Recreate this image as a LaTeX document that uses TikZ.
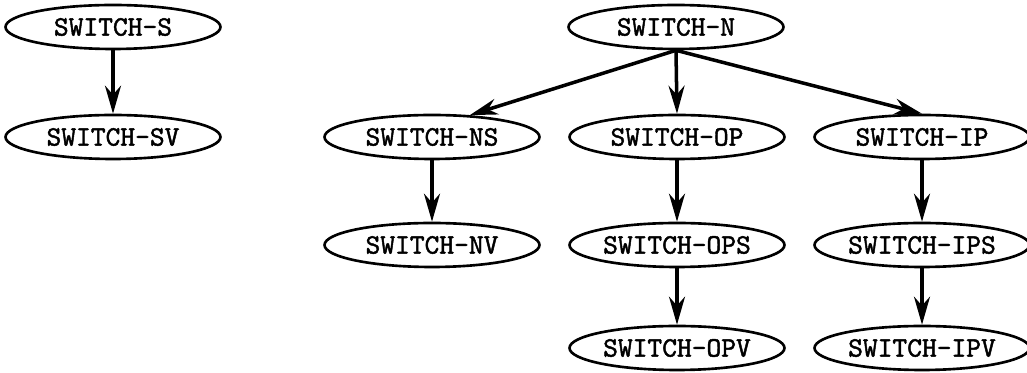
\documentclass[tikz,border=0pt]{standalone}
\usepackage{fontspec}
\setmonofont{lmmono10-regular.otf}[FakeBold=1.6]
\usepackage{tikz}
\usetikzlibrary{arrows.meta,shapes.geometric}

\begin{document}
\begin{tikzpicture}[
  unit/.style={draw, ellipse, line width=1.5pt, minimum width=4.3cm, minimum height=0.88cm, inner sep=0pt, font=\ttfamily\fontsize{16}{18}\selectfont},
  link/.style={line width=2pt, -{Stealth[length=0.56cm, width=0.32cm, inset=0.18cm]}}
]
  \useasboundingbox (0,0) rectangle (20.54,-7.46);
  \node[unit] (s) at (2.26,-0.54) {SWITCH-S};
  \node[unit] (sv) at (2.26,-2.74) {SWITCH-SV};
  \node[unit] (n) at (13.52,-0.54) {SWITCH-N};
  \node[unit] (ns) at (8.64,-2.74) {SWITCH-NS};
  \node[unit] (op) at (13.54,-2.74) {SWITCH-OP};
  \node[unit] (ip) at (18.44,-2.74) {SWITCH-IP};
  \node[unit] (nv) at (8.64,-4.90) {SWITCH-NV};
  \node[unit] (ops) at (13.54,-4.90) {SWITCH-OPS};
  \node[unit] (ips) at (18.44,-4.90) {SWITCH-IPS};
  \node[unit] (opv) at (13.54,-6.96) {SWITCH-OPV};
  \node[unit] (ipv) at (18.44,-6.96) {SWITCH-IPV};
  \draw[link] (s) -- (sv);
  \draw[link] (n.south) -- (ns.30);
  \draw[link] (n.south) -- (op.north);
  \draw[link] (n.south) -- (ip.north);
  \draw[link] (ns) -- (nv);
  \draw[link] (op) -- (ops);
  \draw[link] (ip) -- (ips);
  \draw[link] (ops) -- (opv);
  \draw[link] (ips) -- (ipv);
\end{tikzpicture}
\end{document}
